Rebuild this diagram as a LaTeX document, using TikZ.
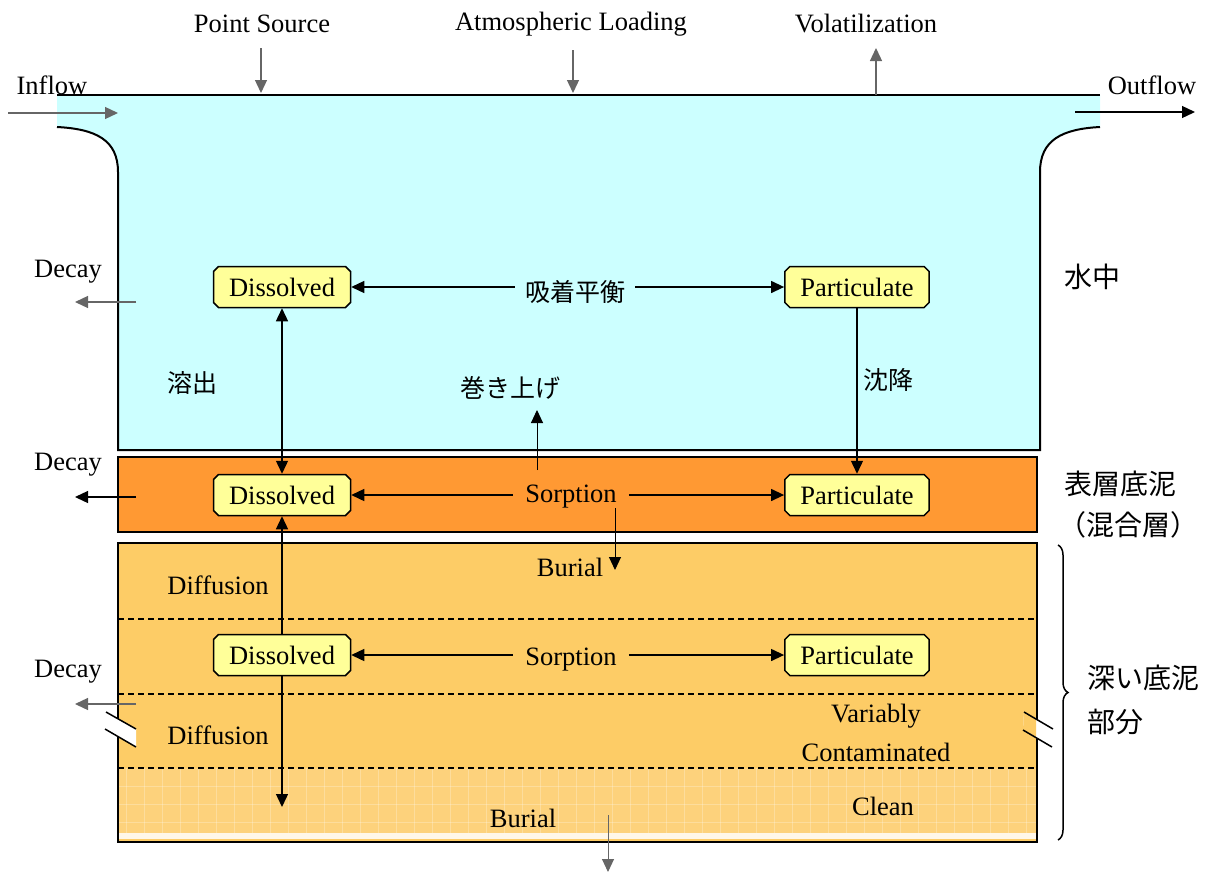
\documentclass[tikz,border=0pt]{standalone}
\usepackage{fontspec}
\setmainfont{Liberation Serif}
\newfontfamily\jp{Noto Sans CJK JP}
\usetikzlibrary{arrows.meta,shapes.misc,decorations.pathreplacing,calc}
\definecolor{watercol}{HTML}{CCFFFF}
\definecolor{surfcol}{HTML}{FF9933}
\definecolor{deepcol}{HTML}{FDCC66}
\definecolor{cleancol}{HTML}{FDD27C}
\definecolor{boxcol}{HTML}{FFFF99}
\definecolor{grayline}{HTML}{666666}
\tikzset{
  lbl/.style={font=\fontsize{26.5}{30}\selectfont, inner sep=0pt},
  jlbl/.style={font=\jp\fontsize{25}{30}\selectfont, inner sep=0pt},
  jbig/.style={font=\jp\fontsize{28}{34}\selectfont, inner sep=0pt, anchor=west},
  comp/.style={chamfered rectangle, chamfered rectangle xsep=2.5pt, chamfered rectangle ysep=2.5pt,
    draw=black, line width=1.5pt, fill=boxcol, minimum width=137pt, minimum height=41pt,
    inner xsep=13pt, inner ysep=0pt, font=\fontsize{26.5}{30}\selectfont},
  arr/.style={line width=1.3pt, -{Triangle[length=13pt,width=12pt]}},
  darr/.style={line width=1.3pt, {Triangle[length=13pt,width=12pt]}-{Triangle[length=13pt,width=12pt]}},
  rarr/.style={line width=1.3pt, {Triangle[length=13pt,width=12pt]}-},
  layer/.style={draw=black, line width=2pt},
  sep/.style={line width=1.3pt, dash pattern=on 6pt off 4pt},
}
\begin{document}
\begin{tikzpicture}[x=1pt,y=-1pt]
\useasboundingbox (0,0) rectangle (1221,873);
% water body
\fill[watercol] (57,95) -- (1100,95) -- (1100,127) .. controls (1062,129) and (1040,140) .. (1040,172)
  -- (1040,450) -- (118,450) -- (118,172) .. controls (118,140) and (96,129) .. (57,127) -- cycle;
\draw[line width=2pt] (57,95) -- (1100,95);
\draw[line width=2pt] (1100,127) .. controls (1062,129) and (1040,140) .. (1040,172)
  -- (1040,450) -- (118,450) -- (118,172) .. controls (118,140) and (96,129) .. (57,127);
% surface sediment
\fill[surfcol] (118,457) rectangle (1037,532);
\draw[layer] (118,457) rectangle (1037,532);
% deep sediment
\fill[deepcol] (118,543) rectangle (1037,842);
\fill[cleancol] (118,768) rectangle (1037,833);
\begin{scope}
\clip (118,768) rectangle (1037,833);
\foreach \gx in {126,144,...,1040} {\draw[white,opacity=0.25,line width=0.8pt] (\gx,768) -- (\gx,833);}
\foreach \gy in {786,804,822} {\draw[white,opacity=0.25,line width=0.8pt] (118,\gy) -- (1037,\gy);}
\end{scope}
\fill[white!85!deepcol] (118,833) rectangle (1037,839);
\draw[layer] (118,543) rectangle (1037,842);
\draw[sep] (118,619) -- (1037,619);
\draw[sep] (118,694) -- (1037,694);
\draw[sep] (118,768) -- (1037,768);
% break marks
\fill[white] (106,712) -- (136,729) -- (136,747) -- (105,729) -- cycle;
\draw[line width=1.5pt] (106,712) -- (136,729);
\draw[line width=1.5pt] (105,729) -- (136,747);
\fill[white] (1024,712) -- (1053,729) -- (1052,747) -- (1023,730) -- cycle;
\fill[deepcol] (1024,712) -- (1036,719) -- (1036,737) -- (1023,730) -- cycle;
\draw[line width=1.5pt] (1024,712) -- (1053,729);
\draw[line width=1.5pt] (1023,730) -- (1052,747);
% top labels and arrows
\node[lbl] (ps) at (262,24) {Point Source};
\node[lbl] (al) at (571,24) {Atmospheric Loading};
\node[lbl] (vo) at (866,24) {Volatilization};
\coordinate (psA) at (261,48); \coordinate (psB) at (261,93);
\coordinate (alA) at (573,50); \coordinate (alB) at (573,93);
\coordinate (voA) at (876,95); \coordinate (voB) at (876,48);
\draw[arr, draw=grayline] (psA) -- (psB);
\draw[arr, draw=grayline] (alA) -- (alB);
\draw[arr, draw=grayline] (voA) -- (voB);
\node[lbl] (inf) at (52,85) {Inflow};
\node[lbl] (outf) at (1152,85) {Outflow};
\coordinate (inA) at (8,113); \coordinate (inB) at (118,113);
\coordinate (outA) at (1075,112); \coordinate (outB) at (1195,112);
\draw[arr, draw=grayline] (inA) -- (inB);
\draw[arr] (outA) -- (outB);
% compartments
\node[comp] (D1) at (282,287) {Dissolved};
\node[comp] (P1) at (857,287) {Particulate};
\node[comp] (D2) at (282,495) {Dissolved};
\node[comp] (P2) at (857,495) {Particulate};
\node[comp] (D3) at (282,655) {Dissolved};
\node[comp] (P3) at (857,655) {Particulate};
% exchange labels
\node[jlbl, inner xsep=10pt] (sorb1) at (575,292) {吸着平衡};
\node[lbl, inner xsep=12pt] (sorb2) at (571,497) {Sorption};
\node[lbl, inner xsep=12pt] (sorb3) at (571,660) {Sorption};
\draw[rarr] (D1.east) -- (D1.east -| sorb1.west);
\draw[arr] (sorb1.east |- P1.west) -- (P1.west);
\draw[rarr] (D2.east) -- (D2.east -| sorb2.west);
\draw[arr] (sorb2.east |- P2.west) -- (P2.west);
\draw[rarr] (D3.east) -- (D3.east -| sorb3.west);
\draw[arr] (sorb3.east |- P3.west) -- (P3.west);
% vertical transfers
\draw[darr] (D1.south) -- (D2.north);
\coordinate (dEnd) at (282,807);
\draw[rarr] (D2.south) -- (D3.north);
\draw[arr] (D3.south) -- (dEnd);
\draw[arr] (P1.south) -- (P2.north);
\node[jlbl] (yo) at (192,383) {溶出};
\node[jlbl] (ch) at (888,380) {沈降};
\node[jlbl] (mk) at (510,388) {巻き上げ};
\coordinate (mkA) at (537,470); \coordinate (mkB) at (537,410);
\draw[arr, line width=1pt] (mkA) -- (mkB);
\node[lbl] (bur1) at (570,567) {Burial};
\coordinate (b1A) at (615,508); \coordinate (b1B) at (615,570);
\draw[arr, line width=1pt] (b1A) -- (b1B);
\node[lbl] (bur2) at (523,818) {Burial};
\coordinate (b2A) at (608,815); \coordinate (b2B) at (608,872);
\draw[arr, line width=1pt, draw=grayline] (b2A) -- (b2B);
\node[lbl] (dif1) at (218,585) {Diffusion};
\node[lbl] (dif2) at (218,735) {Diffusion};
\node[lbl] (var) at (876,716) {Variably};
\node[lbl] (con) at (876,752) {Contaminated};
\node[lbl] (cle) at (883,806) {Clean};
% decay
\node[lbl] (dc1) at (68,272) {Decay};
\node[lbl] (dc2) at (68,465) {Decay};
\node[lbl] (dc3) at (68,672) {Decay};
\coordinate (d1A) at (136,302); \coordinate (d1B) at (75,302);
\coordinate (d2A) at (136,497); \coordinate (d2B) at (75,497);
\coordinate (d3A) at (136,704); \coordinate (d3B) at (75,704);
\draw[arr, draw=grayline] (d1A) -- (d1B);
\draw[arr] (d2A) -- (d2B);
\draw[arr, draw=grayline] (d3A) -- (d3B);
% right labels
\node[jbig] (w) at (1064,277) {水中};
\node[jbig] (s1) at (1064,484) {表層底泥};
\node[jbig] (s2) at (1058,525) {（混合層）};
\node[jbig] (dp1) at (1087,678) {深い底泥};
\node[jbig] (dp2) at (1087,722) {部分};
\coordinate (brT) at (1058,545); \coordinate (brB) at (1058,840);
\draw[line width=1.5pt, decorate, decoration={brace, amplitude=10pt, aspect=0.5}] (brT) -- (brB);
\end{tikzpicture}
\end{document}
